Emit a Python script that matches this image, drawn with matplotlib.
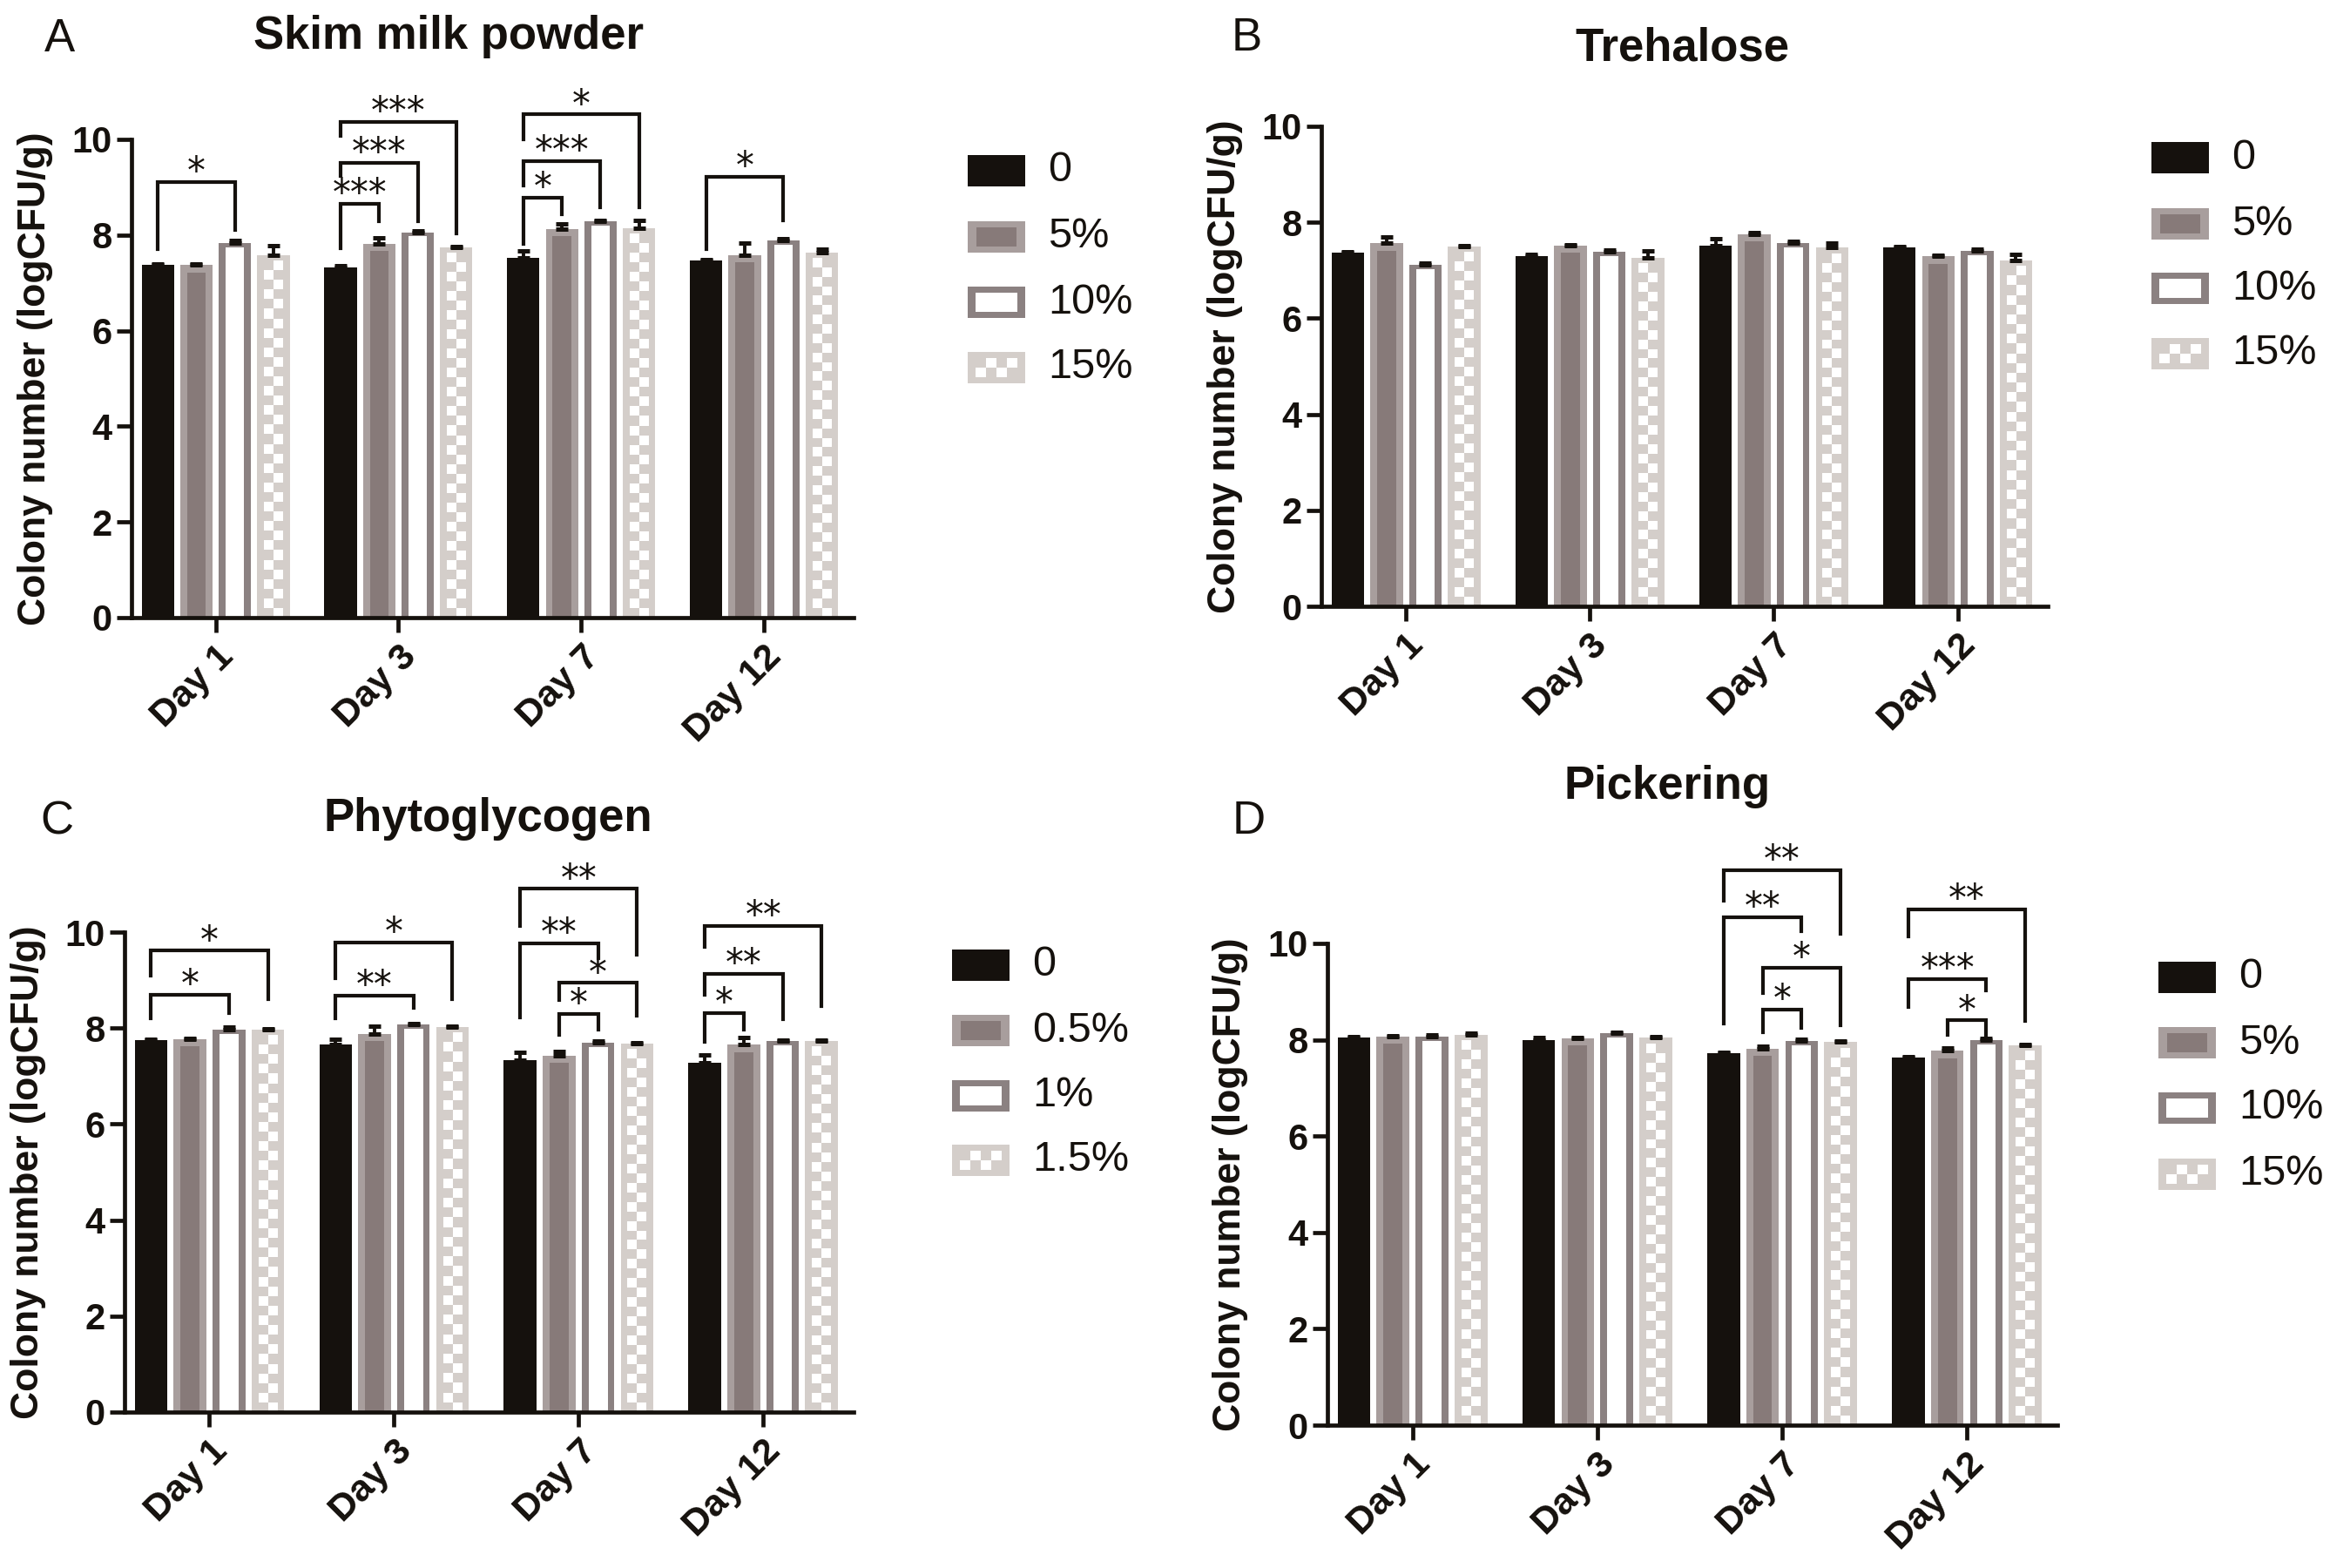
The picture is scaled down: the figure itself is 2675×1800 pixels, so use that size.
import numpy as np
import matplotlib
matplotlib.use('Agg')
import matplotlib.pyplot as plt
from matplotlib.patches import Rectangle
from matplotlib.colors import ListedColormap

plt.rcParams['font.family'] = ['Liberation Sans', 'DejaVu Sans']

days = ['Day 1', 'Day 3', 'Day 7', 'Day 12']
labels_pct = ['0', '5%', '10%', '15%']
labels_phyto = ['0', '0.5%', '1%', '1.5%']

# rows: concentration (0, low, mid, high), columns: days
skim_mean = [[7.37, 7.32, 7.52, 7.47],
             [7.37, 7.81, 8.12, 7.58],
             [7.84, 8.06, 8.28, 7.88],
             [7.57, 7.74, 8.15, 7.64]]
skim_err = [[0.02, 0.04, 0.15, 0.02],
            [0.03, 0.14, 0.12, 0.25],
            [0.05, 0.02, 0.03, 0.04],
            [0.20, 0.02, 0.15, 0.06]]

treh_mean = [[7.37, 7.29, 7.52, 7.47],
             [7.56, 7.51, 7.75, 7.29],
             [7.12, 7.39, 7.57, 7.40],
             [7.49, 7.26, 7.47, 7.21]]
treh_err = [[0.02, 0.05, 0.14, 0.02],
            [0.13, 0.03, 0.04, 0.03],
            [0.03, 0.03, 0.04, 0.05],
            [0.03, 0.15, 0.09, 0.12]]

phyto_mean = [[7.75, 7.66, 7.34, 7.28],
              [7.77, 7.88, 7.43, 7.65],
              [7.97, 8.07, 7.70, 7.73],
              [7.97, 8.02, 7.68, 7.73]]
phyto_err = [[0.02, 0.10, 0.15, 0.17],
             [0.02, 0.16, 0.08, 0.16],
             [0.06, 0.03, 0.03, 0.02],
             [0.02, 0.02, 0.02, 0.02]]

pick_mean = [[8.05, 8.00, 7.72, 7.63],
             [8.07, 8.03, 7.82, 7.77],
             [8.07, 8.13, 7.98, 8.00],
             [8.11, 8.04, 7.95, 7.88]]
pick_err = [[0.02, 0.05, 0.02, 0.02],
            [0.02, 0.02, 0.04, 0.06],
            [0.04, 0.02, 0.03, 0.03],
            [0.02, 0.02, 0.02, 0.03]]

# significance brackets: (day, bar a, bar b, top, leg end a, leg end b, stars)
skim_sig = [(0, 0, 2, 9.11, 7.71, 8.11, '*'),
            (1, 0, 1, 8.66, 7.73, 8.28, '***'),
            (1, 0, 2, 9.51, 9.24, 8.28, '***'),
            (1, 0, 3, 10.37, 10.08, 8.03, '***'),
            (2, 0, 1, 8.78, 7.82, 8.43, '*'),
            (2, 0, 2, 9.55, 9.04, 8.58, '***'),
            (2, 0, 3, 10.52, 10.0, 8.58, '*'),
            (3, 0, 2, 9.21, 7.70, 8.30, '*')]
treh_sig = []
phyto_sig = [(0, 0, 2, 8.69, 8.21, 8.32, '*'),
             (0, 0, 3, 9.61, 9.10, 8.60, '*'),
             (1, 0, 2, 8.68, 8.21, 8.43, '**'),
             (1, 0, 3, 9.78, 9.04, 8.60, '*'),
             (2, 1, 2, 8.30, 7.86, 7.97, '*'),
             (2, 1, 3, 8.94, 8.58, 8.26, '*'),
             (2, 0, 2, 9.76, 8.22, 9.46, '**'),
             (2, 0, 3, 10.90, 10.13, 9.52, '**'),
             (3, 0, 1, 8.32, 7.71, 7.97, '*'),
             (3, 0, 2, 9.13, 8.70, 8.19, '**'),
             (3, 0, 3, 10.12, 9.70, 8.46, '**')]
pick_sig = [(2, 1, 2, 8.63, 8.15, 8.25, '*'),
            (2, 1, 3, 9.50, 8.97, 8.30, '*'),
            (2, 0, 2, 10.55, 8.34, 10.26, '**'),
            (2, 0, 3, 11.52, 10.88, 10.20, '**'),
            (3, 1, 2, 8.40, 8.10, 8.10, '*'),
            (3, 0, 2, 9.26, 8.68, 9.03, '***'),
            (3, 0, 3, 10.70, 10.14, 8.39, '**')]

W, H = 2675, 1800
BLACK = '#15110d'
GRAY_OUT = '#a89e9d'
GRAY_IN = '#877a79'
WHITE_EDGE = '#8b8181'
CHECK = '#d4ceca'
KINDS = ['black', 'gray', 'white', 'check']
OUTER = {'black': BLACK, 'gray': GRAY_OUT, 'white': WHITE_EDGE, 'check': CHECK}
checker_cmap = ListedColormap([CHECK, '#ffffff'])

PITCH = 0.211
BAR_W = 0.177
IN_FRAC = 0.58
TOP_INSET = {'gray': 0.15, 'white': 0.09, 'check': 0.12}


def checker(ax, x0, x1, y0, y1, ncol, nrow, z):
    pat = np.indices((max(nrow, 1), max(ncol, 1))).sum(axis=0) % 2
    ax.imshow(pat, extent=(x0, x1, y0, y1), cmap=checker_cmap, origin='lower',
              interpolation='nearest', aspect='auto', zorder=z)


def draw_bars(ax, means, errs):
    x = np.arange(len(days))
    for k, kind in enumerate(KINDS):
        xs = x + (k - 1.5) * PITCH
        vals = np.array(means[k])
        ax.bar(xs, vals, width=BAR_W, color=OUTER[kind], zorder=2)
        if kind != 'black':
            inner_h = vals - TOP_INSET[kind]
            iw = BAR_W * IN_FRAC
            if kind == 'gray':
                ax.bar(xs, inner_h, width=iw, color=GRAY_IN, zorder=2.1)
            elif kind == 'white':
                ax.bar(xs, inner_h, width=iw, color='white', zorder=2.1)
            else:
                for xc, h in zip(xs, inner_h):
                    checker(ax, xc - iw / 2, xc + iw / 2, 0, h, 2, int(round(h / 0.2)), 2.1)
        ax.errorbar(xs, vals, yerr=[np.zeros(len(vals)), errs[k]], fmt='none',
                    ecolor=BLACK, elinewidth=1.4, capsize=2.6, capthick=1.8, zorder=4)


def draw_sig(ax, sig):
    for d, a, b, top, end_a, end_b, stars in sig:
        xa = d + (a - 1.5) * PITCH
        xb = d + (b - 1.5) * PITCH
        ax.plot([xa, xa, xb, xb], [end_a, top, top, end_b], color=BLACK, lw=1.5,
                clip_on=False, solid_joinstyle='miter', zorder=5)
        ax.text((xa + xb) / 2, top - 0.02, stars, ha='center', va='baseline',
                fontsize=15, family='DejaVu Sans', color=BLACK, clip_on=False)


def legend(ov, x, ys, labels):
    w, h = 66, 36
    for kind, yc, lab in zip(KINDS, ys, labels):
        y0 = yc - h / 2
        ov.add_patch(Rectangle((x, y0), w, h, facecolor=OUTER[kind], edgecolor='none'))
        if kind == 'gray':
            ov.add_patch(Rectangle((x + 10, y0 + 7), w - 20, h - 14, facecolor=GRAY_IN, edgecolor='none'))
        elif kind == 'white':
            ov.add_patch(Rectangle((x + 9, y0 + 7), w - 18, h - 14, facecolor='white', edgecolor='none'))
        elif kind == 'check':
            checker(ov, x + 9, x + w - 9, y0 + 7, y0 + h - 7, 4, 2, 2)
        ov.text(x + w + 26, yc, lab, ha='left', va='center', fontsize=17.5, color=BLACK)


def px_rect(left, right, y0, y10):
    return [left / W, (H - y0) / H, (right - left) / W, (y0 - y10) / H]


fig = plt.figure(figsize=(W / 200, H / 200), dpi=200)
ov = fig.add_axes([0, 0, 1, 1])
ov.set_xlim(0, W)
ov.set_ylim(H, 0)
ov.axis('off')

panels = [
    (px_rect(151, 980, 709, 160), skim_mean, skim_err, skim_sig, 'Skim milk powder',
     (515, 42), 'A', (68, 45), 1111, [196, 272, 347, 422], labels_pct),
    (px_rect(1517, 2351, 696, 145), treh_mean, treh_err, treh_sig, 'Trehalose',
     (1931, 56), 'B', (1431, 44), 2470, [181, 257, 331, 406], labels_pct),
    (px_rect(143, 980, 1621, 1070), phyto_mean, phyto_err, phyto_sig, 'Phytoglycogen',
     (560, 940), 'C', (65, 943), 1093, [1108, 1183, 1258, 1332], labels_phyto),
    (px_rect(1524, 2362, 1636, 1083), pick_mean, pick_err, pick_sig, 'Pickering',
     (1914, 903), 'D', (1434, 943), 2478, [1122, 1197, 1272, 1348], labels_pct),
]

for rect, means, errs, sig, title, txy, letter, lxy, leg_x, leg_ys, leg_labels in panels:
    ax = fig.add_axes(rect)
    ax.patch.set_alpha(0)
    draw_bars(ax, means, errs)
    draw_sig(ax, sig)
    ax.set_xlim(-0.46, 3.49)
    ax.set_ylim(0, 10)
    ax.set_yticks(range(0, 11, 2))
    ax.set_xticks(np.arange(len(days)))
    ax.set_xticklabels(days, rotation=45, ha='right', va='top', rotation_mode='anchor',
                       fontsize=15.5, fontweight='bold')
    for t in ax.get_yticklabels():
        t.set_fontweight('bold')
    for s in ['top', 'right']:
        ax.spines[s].set_visible(False)
    for s in ['left', 'bottom']:
        ax.spines[s].set_linewidth(1.7)
        ax.spines[s].set_color(BLACK)
    ax.tick_params(axis='both', width=1.7, length=6, color=BLACK, labelcolor=BLACK)
    ax.tick_params(axis='y', labelsize=15, pad=2)
    ax.tick_params(axis='x', pad=3)
    ax.set_ylabel('Colony number (logCFU/g)', fontsize=16, fontweight='bold', color=BLACK)
    ax.yaxis.set_label_coords(-0.108, 0.5)

    ov.text(txy[0], txy[1], title, ha='center', va='center', fontsize=19,
            fontweight='bold', color=BLACK)
    ov.text(lxy[0], lxy[1], letter, ha='center', va='center', fontsize=19,
            family=['Liberation Sans Narrow', 'Liberation Sans'], color=BLACK)
    legend(ov, leg_x, leg_ys, leg_labels)

fig.savefig('out.png', dpi=200)
